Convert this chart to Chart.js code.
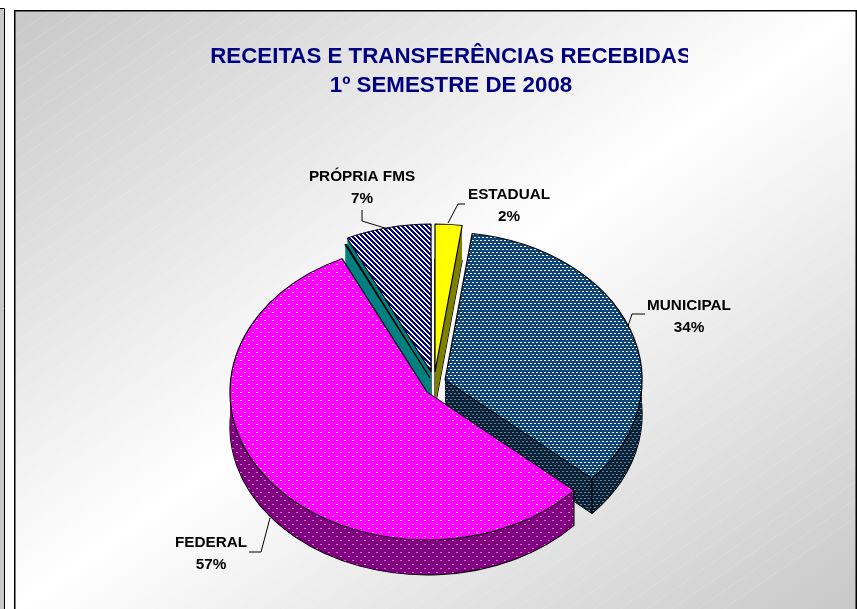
<!DOCTYPE html>
<html lang="pt">
<head>
    <meta charset="UTF-8">
    <title>Receitas e Transferências Recebidas</title>
    <script src="https://cdnjs.cloudflare.com/ajax/libs/Chart.js/4.4.1/chart.umd.min.js"></script>
    <style>
        html, body { margin: 0; padding: 0; background: #fff; overflow: hidden; }
        canvas { display: block; }
    </style>
</head>
<body>
    <canvas id="pie" width="857" height="609"></canvas>

    <script>
        // data, clockwise from 12 o'clock (the teal one has no label in the original)
        const categories = ['ESTADUAL', 'MUNICIPAL', 'FEDERAL', '', 'PRÓPRIA FMS'];
        const values = [2.2, 34.4, 56.3, 0.1, 7.0];
        const percentLabels = ['2%', '34%', '57%', '', '7%'];
        const titleLines = ['RECEITAS E TRANSFERÊNCIAS RECEBIDAS', '1º SEMESTRE DE 2008'];

        // look of the fake 3D pie
        const pieCenter = { x: 432, y: 382 };
        const squash = 0.751;
        const depth = 35;
        const pieRadius = 197;
        const explodeX = [3, 13, -5, -2, -1];
        const explodeY = [-10, -2, 10, -4, -10];
        const drawOrder = [4, 3, 0, 1, 2];
        const labelBoxes = [
            { x: 509, y: 195 }, { x: 689, y: 306 }, { x: 211, y: 543 }, null, { x: 362, y: 177 }
        ];
        const leaders = [
            [[465, 204], [458, 204], [448, 223]],
            [[645, 314], [632, 314], [628, 326]],
            [[249, 552], [261, 552], [270, 518]],
            null,
            [[362, 210], [362, 221], [388, 229]]
        ];

        // small repeating tiles for the hatch fills
        function tile(w, h, bg, fg, cells) {
            const c = document.createElement('canvas');
            c.width = w;
            c.height = h;
            const g = c.getContext('2d');
            g.fillStyle = bg;
            g.fillRect(0, 0, w, h);
            g.fillStyle = fg;
            cells.forEach(r => g.fillRect(r[0], r[1], r[2], r[3]));
            return g.createPattern(c, 'repeat');
        }

        const dashes = [[0, 0, 2, 1], [2, 3, 2, 1]];
        const dots = [[0, 0, 2, 1], [4, 4, 2, 1]];
        const diagonal = [
            [0, 0, 3, 1], [1, 1, 3, 1], [2, 2, 3, 1], [3, 3, 2, 1], [0, 3, 1, 1], [4, 4, 1, 1], [0, 4, 2, 1]
        ];
        const topFills = [
            '#ffff00',
            tile(4, 6, '#0f4477', '#ffffff', dashes),
            tile(8, 8, '#ff00ff', '#ffd0ff', dots),
            '#008080',
            tile(5, 5, '#ffffff', '#000080', diagonal)
        ];
        const wallFills = [
            '#808000',
            tile(4, 6, '#0a2238', '#6d8498', dashes),
            tile(8, 8, '#800080', '#d070d0', dots),
            '#008080',
            '#008080'
        ];

        // pins a pattern to the page so it does not slide with the transforms below
        function pin(fill, ctx) {
            if (fill instanceof CanvasPattern) fill.setTransform(ctx.getTransform().inverse());
        }

        function paintPanelBackground(ctx, x, y, w, h) {
            const grad = ctx.createLinearGradient(153, -88, 719, 708);
            grad.addColorStop(0, '#c8c8c8');
            grad.addColorStop(0.5, '#ffffff');
            grad.addColorStop(1, '#c8c8c8');
            ctx.fillStyle = grad;
            ctx.fillRect(x, y, w, h);
        }

        const backdrop = {
            id: 'backdrop',
            beforeDraw(chart) {
                const ctx = chart.ctx;
                ctx.save();
                ctx.fillStyle = '#ffffff';
                ctx.fillRect(0, 0, 857, 609);
                // neighbouring slide, just its edge
                ctx.fillStyle = '#c8c8c8';
                ctx.fillRect(0, 8, 4, 601);
                ctx.strokeStyle = '#000';
                ctx.lineWidth = 1;
                ctx.beginPath();
                ctx.moveTo(0, 8.5);
                ctx.lineTo(4.5, 8.5);
                ctx.lineTo(4.5, 609);
                ctx.stroke();

                paintPanelBackground(ctx, 15, 11, 842, 598);
                // gradient banding shows as faint light diagonals
                ctx.beginPath();
                ctx.rect(15, 11, 842, 598);
                ctx.clip();
                ctx.strokeStyle = 'rgba(255,255,255,0.2)';
                ctx.setLineDash([3, 1]);
                for (let s = -600; s < 1600; s += 26) {
                    ctx.beginPath();
                    ctx.moveTo(s, 11);
                    ctx.lineTo(s - 860, 609);
                    ctx.stroke();
                }
                ctx.setLineDash([]);
                ctx.restore();

                ctx.save();
                ctx.strokeStyle = '#000';
                ctx.lineWidth = 1.5;
                ctx.beginPath();
                ctx.moveTo(14.75, 609);
                ctx.lineTo(14.75, 10.75);
                ctx.lineTo(856.25, 10.75);
                ctx.lineTo(856.25, 609);
                ctx.stroke();
                ctx.restore();
            }
        };

        const pie3d = {
            id: 'pie3d',
            beforeDatasetsDraw(chart) {
                const ctx = chart.ctx;
                const arcs = chart.getDatasetMeta(0).data;

                drawOrder.forEach(i => {
                    const arc = arcs[i];
                    const shown = arc.options;
                    const baseX = pieCenter.x + explodeX[i];
                    const baseY = pieCenter.y + explodeY[i];
                    const toPie = drop => {
                        ctx.translate(baseX, baseY + drop);
                        ctx.scale(1, squash);
                        ctx.translate(-arc.x, -arc.y);
                    };

                    // side wall: the same arc stamped downwards, outlined only at the bottom
                    for (let d = depth; d > 0; d--) {
                        ctx.save();
                        toPie(d);
                        pin(wallFills[i], ctx);
                        arc.options = Object.assign({}, shown, {
                            backgroundColor: wallFills[i],
                            borderWidth: d === depth ? 1.2 : 0
                        });
                        arc.draw(ctx);
                        ctx.restore();
                    }

                    // vertical edges on the near side of the slice
                    [arc.startAngle, arc.endAngle].forEach(a => {
                        if (Math.sin(a) <= 0) return;
                        const px = baseX + Math.cos(a) * arc.outerRadius;
                        const py = baseY + Math.sin(a) * arc.outerRadius * squash;
                        ctx.save();
                        ctx.strokeStyle = '#000';
                        ctx.lineWidth = 1.2;
                        ctx.beginPath();
                        ctx.moveTo(px, py);
                        ctx.lineTo(px, py + depth);
                        ctx.stroke();
                        ctx.restore();
                    });

                    // top face
                    ctx.save();
                    toPie(0);
                    pin(topFills[i], ctx);
                    arc.options = shown;
                    arc.draw(ctx);
                    ctx.restore();
                });
                return false;
            }
        };

        const labels = {
            id: 'sliceLabels',
            afterDraw(chart) {
                const ctx = chart.ctx;

                // the original title is cut off at this x, over the last letter
                ctx.save();
                paintPanelBackground(ctx, 688, 40, 16, 34);
                ctx.restore();

                ctx.save();
                ctx.fillStyle = '#000';
                ctx.strokeStyle = '#000';
                ctx.lineWidth = 1;
                ctx.font = 'bold 15.3px "Liberation Sans", Arial, sans-serif';
                ctx.textAlign = 'center';
                ctx.textBaseline = 'middle';
                categories.forEach((name, i) => {
                    if (!name) return;
                    const box = labelBoxes[i];
                    ctx.fillText(name, box.x, box.y);
                    ctx.fillText(percentLabels[i], box.x, box.y + 22);
                    ctx.beginPath();
                    leaders[i].forEach((p, k) => k ? ctx.lineTo(p[0], p[1]) : ctx.moveTo(p[0], p[1]));
                    ctx.stroke();
                });
                ctx.restore();
            }
        };

        new Chart(document.getElementById('pie'), {
            type: 'pie',
            data: {
                labels: categories,
                datasets: [{
                    data: values,
                    backgroundColor: topFills,
                    borderColor: '#000000',
                    borderWidth: 1.2
                }]
            },
            plugins: [backdrop, pie3d, labels],
            options: {
                responsive: false,
                animation: false,
                radius: pieRadius,
                layout: { padding: { left: 45 } },
                plugins: {
                    legend: { display: false },
                    tooltip: { enabled: false },
                    title: {
                        display: true,
                        text: titleLines,
                        color: '#000080',
                        font: { family: '"Liberation Sans", Arial, sans-serif', size: 22.3, weight: 'bold', lineHeight: 1.3 },
                        padding: { top: 42, bottom: 10 }
                    }
                }
            }
        });
    </script>
</body>
</html>
